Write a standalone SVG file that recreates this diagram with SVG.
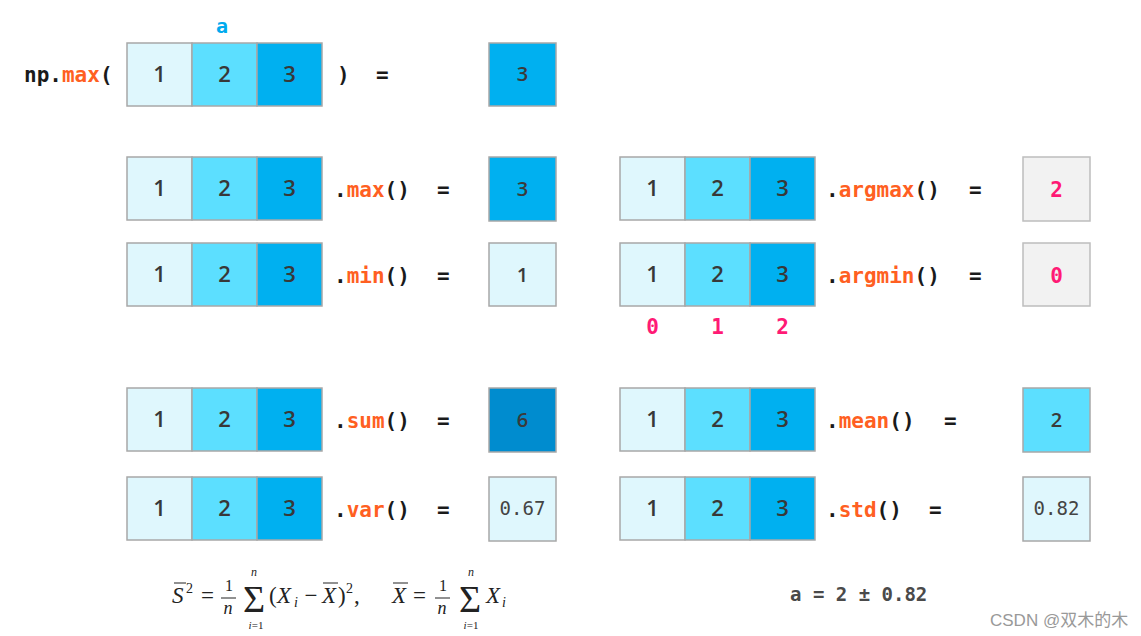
<svg xmlns="http://www.w3.org/2000/svg" xmlns:xlink="http://www.w3.org/1999/xlink" width="1141" height="636" viewBox="0 0 1141 636">
<style>
.c1{fill:#dff7fd;stroke:#a8a8a8;stroke-width:1.5}
.c2{fill:#5cdfff;stroke:#a8a8a8;stroke-width:1.5}
.c3{fill:#00b0f0;stroke:#a8a8a8;stroke-width:1.5}
.c6{fill:#008ccf;stroke:#a8a8a8;stroke-width:1.5}
.cg{fill:#f2f2f2;stroke:#bdbdbd;stroke-width:1.5}
.d{font-family:"Open Sans","Noto Sans","Liberation Sans",sans-serif;font-size:22px;font-weight:600;fill:#383838;text-anchor:middle}
.dr{font-family:"Open Sans","Noto Sans","Liberation Sans",sans-serif;font-size:20px;font-weight:600;fill:#3a3a3a;text-anchor:middle}
.m{font-family:"DejaVu Sans Mono","Liberation Mono",monospace;font-size:19px;fill:#444;text-anchor:middle}
.lab{font-family:"DejaVu Sans Mono","Liberation Mono",monospace;font-size:21px;font-weight:bold;fill:#1a1a1a}
.fn{fill:#ff5f22}
.pk{font-family:"DejaVu Sans Mono","Liberation Mono",monospace;font-size:21px;font-weight:bold;fill:#ff1a75;text-anchor:middle}
.f{font-family:"Liberation Serif","DejaVu Serif",serif;fill:#222}
.fi{font-style:italic}
.ol{stroke:#222;stroke-width:1}
</style>
<defs>
<g id="arr">
<rect class="c1" x="0" y="0" width="65" height="63"/>
<rect class="c2" x="65" y="0" width="65" height="63"/>
<rect class="c3" x="130" y="0" width="65" height="63"/>
<text class="d" x="32.5" y="39">1</text>
<text class="d" x="97.5" y="39">2</text>
<text class="d" x="162.5" y="39">3</text>
</g>
</defs>
<g id="connectors"/>

<g id="top">
<text x="222" y="33" font-family="DejaVu Sans Mono,monospace" font-size="20" font-weight="bold" fill="#00aaee" text-anchor="middle">a</text>
<text class="lab" x="24" y="82">np.<tspan class="fn">max</tspan>(</text>
<use xlink:href="#arr" x="127" y="43"/>
<text class="lab" x="337" y="82">)</text>
<text class="lab" x="376" y="82">=</text>
<rect class="c3" x="489" y="43" width="67" height="63"/>
<text class="dr" x="522.5" y="81">3</text>
</g>

<g id="row-max">
<use xlink:href="#arr" x="127" y="157"/>
<text class="lab" x="334" y="197">.<tspan class="fn">max</tspan>()</text>
<text class="lab" x="437" y="197">=</text>
<rect class="c3" x="489" y="157" width="67" height="64"/>
<text class="dr" x="522.5" y="196">3</text>
</g>

<g id="row-min">
<use xlink:href="#arr" x="127" y="243"/>
<text class="lab" x="334" y="283">.<tspan class="fn">min</tspan>()</text>
<text class="lab" x="437" y="283">=</text>
<rect class="c1" x="489" y="243" width="67" height="63"/>
<text class="dr" x="522.5" y="282">1</text>
</g>

<g id="row-argmax">
<use xlink:href="#arr" x="620" y="157"/>
<text class="lab" x="826" y="197">.<tspan class="fn">argmax</tspan>()</text>
<text class="lab" x="969" y="197">=</text>
<rect class="cg" x="1023" y="157" width="67" height="64"/>
<text class="pk" x="1056.5" y="197">2</text>
</g>

<g id="row-argmin">
<use xlink:href="#arr" x="620" y="243"/>
<text class="lab" x="826" y="283">.<tspan class="fn">argmin</tspan>()</text>
<text class="lab" x="969" y="283">=</text>
<rect class="cg" x="1023" y="243" width="67" height="63"/>
<text class="pk" x="1056.5" y="283">0</text>
<text class="pk" x="652.5" y="334">0</text>
<text class="pk" x="717.5" y="334">1</text>
<text class="pk" x="782.5" y="334">2</text>
</g>

<g id="row-sum">
<use xlink:href="#arr" x="127" y="388"/>
<text class="lab" x="334" y="428">.<tspan class="fn">sum</tspan>()</text>
<text class="lab" x="437" y="428">=</text>
<rect class="c6" x="489" y="388" width="67" height="64"/>
<text class="dr" x="522.5" y="427">6</text>
</g>

<g id="row-mean">
<use xlink:href="#arr" x="620" y="388"/>
<text class="lab" x="826" y="428">.<tspan class="fn">mean</tspan>()</text>
<text class="lab" x="944" y="428">=</text>
<rect class="c2" x="1023" y="388" width="67" height="64"/>
<text class="dr" x="1056.5" y="427">2</text>
</g>

<g id="row-var">
<use xlink:href="#arr" x="127" y="477"/>
<text class="lab" x="334" y="517">.<tspan class="fn">var</tspan>()</text>
<text class="lab" x="437" y="517">=</text>
<rect class="c1" x="489" y="477" width="67" height="64"/>
<text class="m" x="522.5" y="515">0.67</text>
</g>

<g id="row-std">
<use xlink:href="#arr" x="620" y="477"/>
<text class="lab" x="826" y="517">.<tspan class="fn">std</tspan>()</text>
<text class="lab" x="929" y="517">=</text>
<rect class="c1" x="1023" y="477" width="67" height="64"/>
<text class="m" x="1056.5" y="515">0.82</text>
</g>

<g id="formula">
<text class="f fi" x="172" y="603" font-size="23">S</text>
<line class="ol" x1="174" y1="583" x2="186" y2="583"/>
<text class="f" x="186" y="593" font-size="14">2</text>
<text class="f" x="201" y="603" font-size="23">=</text>
<text class="f" x="229" y="591" font-size="16" text-anchor="middle">1</text>
<line class="ol" x1="221" y1="598" x2="236" y2="598"/>
<text class="f fi" x="228" y="614" font-size="18" text-anchor="middle">n</text>
<text class="f" x="254" y="612" font-size="38" text-anchor="middle">Σ</text>
<text class="f fi" x="254" y="576" font-size="12" text-anchor="middle">n</text>
<text class="f" x="256" y="629" font-size="11" text-anchor="middle"><tspan class="fi">i</tspan>=1</text>
<text class="f" x="269" y="603" font-size="23">(</text>
<text class="f fi" x="277" y="603" font-size="23">X</text>
<text class="f fi" x="294" y="607" font-size="14">i</text>
<text class="f" x="311" y="603" font-size="23" text-anchor="middle">−</text>
<text class="f fi" x="322" y="603" font-size="23">X</text>
<line class="ol" x1="323" y1="583" x2="338" y2="583"/>
<text class="f" x="338" y="603" font-size="23">)</text>
<text class="f" x="346" y="593" font-size="14">2</text>
<text class="f" x="354" y="603" font-size="23">,</text>
<text class="f fi" x="392" y="603" font-size="23">X</text>
<line class="ol" x1="393" y1="583" x2="408" y2="583"/>
<text class="f" x="413" y="603" font-size="23">=</text>
<text class="f" x="443" y="591" font-size="16" text-anchor="middle">1</text>
<line class="ol" x1="435" y1="598" x2="450" y2="598"/>
<text class="f fi" x="442" y="614" font-size="18" text-anchor="middle">n</text>
<text class="f" x="470" y="612" font-size="38" text-anchor="middle">Σ</text>
<text class="f fi" x="471" y="576" font-size="12" text-anchor="middle">n</text>
<text class="f" x="471" y="629" font-size="11" text-anchor="middle"><tspan class="fi">i</tspan>=1</text>
<text class="f fi" x="486" y="603" font-size="23">X</text>
<text class="f fi" x="502" y="607" font-size="14">i</text>
</g>

<g id="result">
<text x="790" y="601" font-family="DejaVu Sans Mono,monospace" font-size="19" font-weight="bold" fill="#4a4a4a">a = 2 ± 0.82</text>
</g>

<g id="watermark">
<text x="990" y="626" font-family="Liberation Sans,Noto Sans CJK SC,sans-serif" font-size="17" fill="#999">CSDN @双木的木</text>
</g>
</svg>
